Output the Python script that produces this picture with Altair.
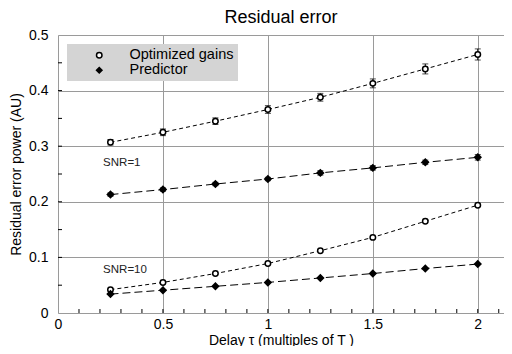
import altair as alt
import pandas as pd

delay = [0.25, 0.5, 0.75, 1.0, 1.25, 1.5, 1.75, 2.0]

opt_snr1 = [0.307, 0.325, 0.345, 0.366, 0.388, 0.413, 0.439, 0.465]
opt_snr1_err = [0.005, 0.006, 0.006, 0.007, 0.007, 0.008, 0.009, 0.010]
pred_snr1 = [0.213, 0.222, 0.232, 0.241, 0.252, 0.261, 0.271, 0.280]
pred_snr1_err = [0.003, 0.003, 0.003, 0.003, 0.004, 0.004, 0.004, 0.005]
opt_snr10 = [0.042, 0.055, 0.071, 0.089, 0.112, 0.136, 0.165, 0.194]
opt_snr10_err = [0, 0, 0, 0, 0, 0, 0, 0]
pred_snr10 = [0.034, 0.041, 0.048, 0.055, 0.063, 0.071, 0.080, 0.088]
pred_snr10_err = [0, 0, 0, 0, 0, 0, 0, 0]

series_names = ["Optimized gains", "Predictor"]
snr_labels = ["SNR=1", "SNR=10"]
snr_label_x = [0.215, 0.215]
snr_label_y = [0.269, 0.078]

x_minor_ticks = [round(0.1 * i, 2) for i in range(1, 22)]
y_minor_ticks = [round(0.05 * i, 2) for i in range(1, 10)]

rows = []
for name, snr, vals, errs in [
    ("Optimized gains", "1", opt_snr1, opt_snr1_err),
    ("Predictor", "1", pred_snr1, pred_snr1_err),
    ("Optimized gains", "10", opt_snr10, opt_snr10_err),
    ("Predictor", "10", pred_snr10, pred_snr10_err),
]:
    for x, v, e in zip(delay, vals, errs):
        rows.append({"x": x, "y": v, "lo": v - e, "hi": v + e, "err": e,
                     "series": name, "group": name + snr})
df = pd.DataFrame(rows)

W, H = 446, 278
FONT = "Liberation Sans"

xs = alt.Scale(domain=[0, 2.125], nice=False, zero=False)
ys = alt.Scale(domain=[0, 0.5], nice=False)

base = alt.Chart(df)

x_enc = alt.X("x:Q", scale=xs,
              axis=alt.Axis(values=[0, 0.5, 1, 1.5, 2], format=".1~f",
                            title="Delay τ (multiples of T )", grid=True,
                            gridColor="#9a9a9a", ticks=False, domain=False,
                            labelFlush=False,
                            labelFontSize=14, titleFontSize=14, labelPadding=4,
                            titlePadding=2, labelFont=FONT, titleFont=FONT,
                            titleFontWeight="normal", labelColor="black",
                            titleColor="black"))
y_enc = alt.Y("y:Q", scale=ys,
              axis=alt.Axis(values=[0, 0.1, 0.2, 0.3, 0.4, 0.5], format=".1~f",
                            title="Residual error power (AU)", grid=True,
                            gridColor="#9a9a9a", ticks=False, domain=False,
                            labelFlush=False,
                            labelFontSize=14, titleFontSize=14, labelPadding=10,
                            titlePadding=5, labelFont=FONT, titleFont=FONT,
                            titleFontWeight="normal", labelColor="black",
                            titleColor="black"))

lines_opt = base.transform_filter(
    alt.datum.series == series_names[0]).mark_line(
    color="black", strokeWidth=1, strokeDash=[4, 3]).encode(
    x=x_enc, y=y_enc, detail="group:N")
lines_pred = base.transform_filter(
    alt.datum.series == series_names[1]).mark_line(
    color="black", strokeWidth=1, strokeDash=[8, 4]).encode(
    x="x:Q", y="y:Q", detail="group:N")

eb = base.transform_filter("datum.err > 0")
ebars = eb.mark_rule(color="black", strokeWidth=1).encode(
    x="x:Q", y="lo:Q", y2="hi:Q")
caps_lo = eb.mark_tick(color="black", orient="horizontal", size=6,
                       thickness=1).encode(x="x:Q", y="lo:Q")
caps_hi = eb.mark_tick(color="black", orient="horizontal", size=6,
                       thickness=1).encode(x="x:Q", y="hi:Q")

leg = alt.Legend(title=None, orient="top-left", offset=9,
                 fillColor="#d4d4d4", padding=4, symbolOffset=21,
                 labelOffset=23, labelFontSize=14.5, labelFont=FONT,
                 labelColor="black", symbolStrokeColor="black",
                 symbolStrokeWidth=1.5, symbolSize=30, rowPadding=0,
                 zindex=1)

points = base.mark_point(strokeWidth=1.5, opacity=1, filled=False).encode(
    x="x:Q", y="y:Q",
    shape=alt.Shape("series:N", scale=alt.Scale(domain=series_names,
                    range=["circle", "diamond"]), legend=leg),
    fill=alt.Fill("series:N", scale=alt.Scale(domain=series_names,
                  range=["white", "black"]), legend=leg),
    stroke=alt.Stroke("series:N", scale=alt.Scale(domain=series_names,
                      range=["black", "black"]), legend=leg),
    size=alt.condition("datum.series == 'Predictor'", alt.value(40),
                       alt.value(30)),
)

lab_df = pd.DataFrame({"x": snr_label_x, "y": snr_label_y, "t": snr_labels})
labels = alt.Chart(lab_df).mark_text(align="left", baseline="middle",
                                     fontSize=11.5, font=FONT,
                                     color="#222").encode(
    x="x:Q", y="y:Q", text="t:N")

xt = alt.Chart(pd.DataFrame({"x": x_minor_ticks})).mark_rule(
    color="black", strokeWidth=1).encode(
    x="x:Q", y=alt.value(H), y2=alt.value(H - 4))
yt = alt.Chart(pd.DataFrame({"y": y_minor_ticks})).mark_rule(
    color="black", strokeWidth=1).encode(
    y="y:Q", x=alt.value(0), x2=alt.value(4))

chart = alt.layer(lines_opt, lines_pred, ebars, caps_lo, caps_hi, points,
                  labels, xt, yt).properties(
    width=W, height=H,
    title=alt.TitleParams("Residual error", fontSize=18, font=FONT,
                          fontWeight="normal", color="black", offset=1,
                          frame="group"),
    autosize=alt.AutoSizeParams(type="none"),
    padding={"left": 50, "top": 27, "right": 0, "bottom": 33},
).configure_view(stroke="black", strokeWidth=1.5).configure(background="white")

chart.save("out.html", embed_options={"renderer": "svg", "actions": False})
